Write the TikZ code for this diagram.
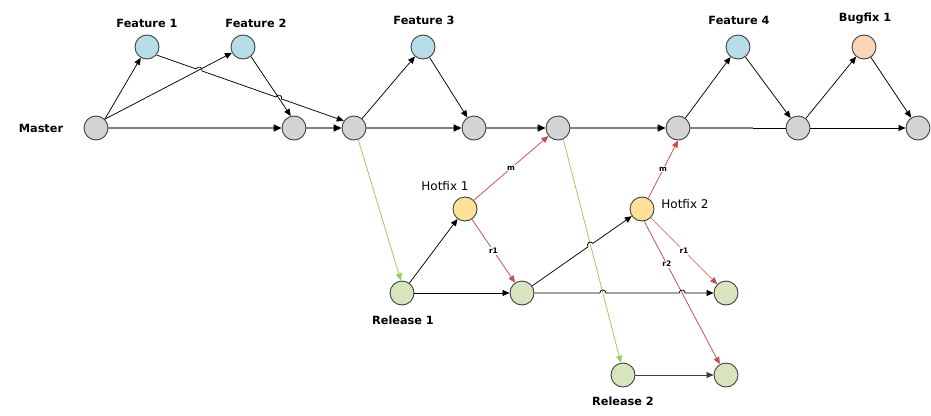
\documentclass[tikz,border=0pt]{standalone}
\usepackage{fontspec}
\setmainfont{DejaVu Sans}
\usetikzlibrary{arrows.meta,calc,intersections}
\definecolor{mgray}{HTML}{D4D4D4}
\definecolor{nborder}{HTML}{404040}
\definecolor{fblue}{HTML}{B7DDE8}
\definecolor{borange}{HTML}{FBD5B5}
\definecolor{hyellow}{HTML}{FFE299}
\definecolor{rgreen}{HTML}{D7E4BD}
\definecolor{hred}{HTML}{C0504D}
\definecolor{lred}{HTML}{D48A87}
\definecolor{ggreen}{HTML}{92D050}
\definecolor{mainline}{HTML}{7F7F7F}
\begin{document}
\begin{tikzpicture}[x=1pt,y=1pt,
  commit/.style={circle,draw=nborder,line width=0.9pt,minimum size=24pt,inner sep=0pt},
  mst/.style={commit,fill=mgray},
  feat/.style={commit,fill=fblue},
  bug/.style={commit,fill=borange},
  hot/.style={commit,fill=hyellow},
  rel/.style={commit,fill=rgreen},
  lbl/.style={font=\fontsize{11.3}{13}\selectfont\bfseries,inner sep=0pt,anchor=base},
  hlbl/.style={font=\fontsize{12}{14}\selectfont,inner sep=0pt,anchor=base},
  elbl/.style={font=\fontsize{7.5}{9}\selectfont\bfseries,fill=white,inner sep=0.8pt},
  thinarr/.style={-{Triangle[length=7pt,width=6pt]},draw=black,line width=0.75pt},
  mainarr/.style={-{Triangle[length=8pt,width=7pt,color=black]},draw=mainline,line width=1.5pt},
  mainline/.style={draw=mainline,line width=1.5pt},
  redarr/.style={-{Triangle[length=7pt,width=6pt]},draw=hred,line width=0.75pt},
  lredarr/.style={-{Triangle[length=7pt,width=6pt,color=hred]},draw=lred,line width=0.75pt},
  greenarr/.style={-{Triangle[length=7pt,width=6pt]},draw=ggreen,line width=0.75pt},
  jump/.style={bend left=90,looseness=1.7}
]
\useasboundingbox (0,0) rectangle (931,-415);

% commits
\node[mst] (Master) at (96,-128) {};
\node[feat] (F1) at (147,-47) {};
\node[feat] (F2) at (243,-47) {};
\node[mst] (M2) at (294,-128) {};
\node[mst] (M3) at (354,-128) {};
\node[feat] (F3) at (423,-47) {};
\node[mst] (M4) at (474,-128) {};
\node[mst] (M5) at (558,-128) {};
\node[mst] (M6) at (678,-128) {};
\node[feat] (F4) at (738,-47) {};
\node[mst] (M7) at (798,-128) {};
\node[bug] (B1) at (864,-47) {};
\node[mst] (M8) at (918,-128) {};
\node[hot] (H1) at (465,-209) {};
\node[hot] (H2) at (642,-209) {};
\node[rel] (R1) at (402,-293) {};
\node[rel] (R1b) at (522,-293) {};
\node[rel] (R1c) at (726,-293) {};
\node[rel] (R2) at (623,-375) {};
\node[rel] (R2b) at (726,-375) {};
\coordinate (G67) at (753,-128);

% labels
\node[lbl] (tMaster) at (41,-132) {Master};
\node[lbl] (tF1) at (147,-27.5) {Feature 1};
\node[lbl] (tF2) at (256,-27.5) {Feature 2};
\node[lbl] (tF3) at (424,-24.5) {Feature 3};
\node[lbl] (tF4) at (739,-24.5) {Feature 4};
\node[lbl] (tB1) at (865,-21.5) {Bugfix 1};
\node[hlbl] (tH1) at (445,-190.5) {Hotfix 1};
\node[hlbl] (tH2) at (685,-208.5) {Hotfix 2};
\node[lbl] (tR1) at (403,-324) {Release 1};
\node[lbl] (tR2) at (623,-405) {Release 2};

% master line
\draw[mainarr] (Master) -- (M2);
\draw[mainarr] (M2) -- (M3);
\draw[mainarr] (M3) -- (M4);
\draw[mainarr] (M4) -- (M5);
\draw[mainarr] (M5) -- (M6);
\draw[mainline] (M6) -- (G67);
\draw[line width=0.75pt] (G67) -- (M7);
\draw[thinarr] (M7) -- (M8);

% features
\draw[thinarr] (Master.45) -- (F1);
\draw[thinarr] (Master.45) -- (F2);
\draw[thinarr] (F2.310) -- (M2.105);
\path[name path=pF1M3] (F1.320) -- (M3.145);
\path[name path=pMF2] (Master.45) -- (F2);
\path[name path=pF2M2] (F2.310) -- (M2.105);
\path[name intersections={of=pF1M3 and pMF2,by=J1}];
\path[name intersections={of=pF1M3 and pF2M2,by=J2}];
\draw[thinarr] (F1.320) -- ($(J1)!3pt!(F1.320)$) to[jump] ($(J1)!3pt!(M3.145)$)
  -- ($(J2)!3pt!(F1.320)$) to[jump] ($(J2)!3pt!(M3.145)$) -- (M3.145);
\draw[thinarr] (M3) -- (F3);
\draw[thinarr] (F3) -- (M4);
\draw[thinarr] (M6) -- (F4);
\draw[thinarr] (F4) -- (M7);
\draw[thinarr] (M7) -- (B1);
\draw[thinarr] (B1) -- (M8);

% releases
\draw[greenarr] (M3.290) -- (R1.95);
\draw[greenarr] (M5.295) -- (R2.100);
\draw[thinarr] (R1) -- (H1);
\draw[thinarr] (R1) -- (R1b);
\draw[redarr] (H1.45) -- node[elbl] (lm1) {m} (M5.220);
\draw[redarr] (H1) -- node[elbl] (lr1) {r1} (R1b);
\draw[redarr] (H2.60) -- node[elbl] (lm2) {m} (M6.270);
\draw[lredarr] (H2) -- node[elbl] (lr21) {r1} (R1c);
\draw[redarr] (H2.280) -- node[elbl,pos=0.3] (lr22) {r2} (R2b.120);

\path[name path=pG2] (M5.295) -- (R2.100);
\path[name path=pR2r] (H2.280) -- (R2b.120);
\path[name path=pRbH2] (R1b) -- (H2);
\path[name path=pRbRc] (R1b) -- (R1c);
\path[name intersections={of=pRbH2 and pG2,by=J3}];
\path[name intersections={of=pRbRc and pG2,by=J4}];
\path[name intersections={of=pRbRc and pR2r,by=J5}];
\draw[thinarr] (R1b) -- ($(J3)!3pt!(R1b)$) to[jump] ($(J3)!3pt!(H2)$) -- (H2);
\draw[thinarr] (R1b) -- ($(J4)!3pt!(R1b)$) to[jump] ($(J4)!3pt!(R1c)$)
  -- ($(J5)!3pt!(R1b)$) to[jump] ($(J5)!3pt!(R1c)$) -- (R1c);
\draw[thinarr,draw=nborder] (R2) -- (R2b);
\end{tikzpicture}
\end{document}
